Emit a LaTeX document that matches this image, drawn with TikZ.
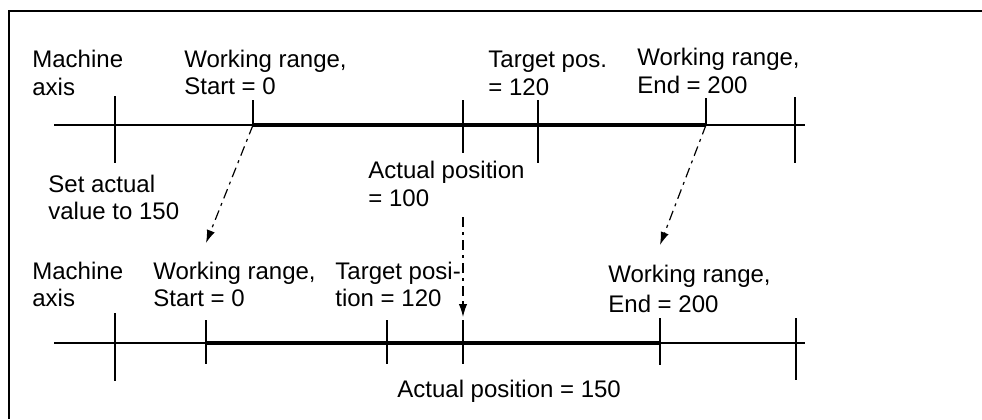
\documentclass[tikz,border=0pt]{standalone}
\usepackage{fontspec}
\setmainfont{Liberation Sans}
\usetikzlibrary{arrows.meta,positioning}
\newcommand{\lblfont}{\fontsize{12}{13.7}\selectfont}

\begin{document}
\begin{tikzpicture}[
    x=0.5pt, y=-0.5pt,
    frameline/.style={line width=0.6pt},
    axisline/.style={line width=0.65pt},
    rangeline/.style={line width=1.7pt},
    tickline/.style={line width=0.65pt},
    axislabel/.style={anchor=base west, align=left, inner sep=0pt, font=\lblfont},
    shiftarrow/.style={-{Latex[length=6.5pt,width=4.2pt]}, line width=0.6pt, dash pattern=on 5pt off 2.5pt on 1.5pt off 2.5pt}
]
\useasboundingbox (0,0) rectangle (982,419);
\draw[frameline] (9,419) -- (9,11) -- (982,11);

% axis before setting the actual value
\coordinate (startA) at (253,125);
\coordinate (endA) at (706,125);
\coordinate (actA) at (463,217);
\draw[axisline] (54,125) -- (805,125);
\draw[rangeline] (startA) -- (endA);
\draw[tickline] (115,96) -- (115,163);
\draw[tickline] (253,100) -- (startA);
\draw[tickline] (463,100) -- (463,153);
\draw[tickline] (538,100) -- (538,163);
\draw[tickline] (706,98) -- (endA);
\draw[tickline] (795,97) -- (795,163);

% axis after setting the actual value
\coordinate (startB) at (206,243);
\coordinate (endB) at (660,245);
\coordinate (actB) at (463,317);
\draw[axisline] (54,343) -- (805,343);
\draw[rangeline] (206,343) -- (660,343);
\draw[tickline] (115,313) -- (115,381);
\draw[tickline] (206,320) -- (206,364);
\draw[tickline] (387,320) -- (387,364);
\draw[tickline] (463,320) -- (463,364);
\draw[tickline] (660,318) -- (660,365);
\draw[tickline] (796,318) -- (796,380);

% labels (anchored at the baseline of the last line)
\node[axislabel] (axisA) at (32,95) {Machine\\axis};
\node[axislabel] (startlblA) at (184,94.5) {Working range,\\Start = 0};
\node[axislabel] (targetA) at (488,95) {Target pos.\\= 120};
\node[axislabel] (endlblA) at (637,93) {Working range,\\End = 200};
\node[axislabel] (setlbl) at (48,219.5) {Set actual\\value to 150};
\node[axislabel] (actlblA) at (368,206.7) {Actual position\\[0.5pt]= 100};
\node[axislabel] (axisB) at (32,306.7) {Machine\\axis};
\node[axislabel] (startlblB) at (153,306.7) {Working range,\\Start = 0};
\node[axislabel] (targetB) at (335,306.7) {Target posi-\\tion = 120};
\node[axislabel] (endlblB) at (608,312) {Working range,\\[1pt]End = 200};
\node[axislabel] (actlblB) at (397,397) {Actual position = 150};

% shifts
\draw[shiftarrow] (startA) -- (startB);
\draw[shiftarrow] (endA) -- (endB);
\draw[shiftarrow] (actA) -- (actB);
\end{tikzpicture}
\end{document}
